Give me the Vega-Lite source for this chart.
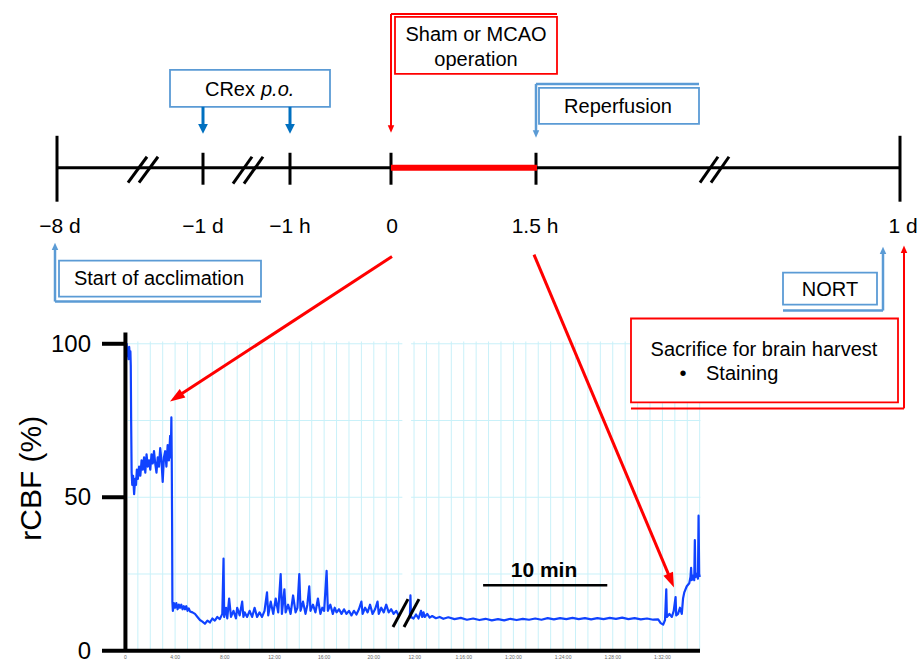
{
  "$schema": "https://vega.github.io/schema/vega-lite/v6.json",
  "width": 919,
  "height": 664,
  "autosize": {"type": "fit", "contains": "padding"},
  "padding": 0,
  "background": "white",
  "config": {"view": {"stroke": null}, "font": "Liberation Sans"},
  "datasets": {
    "trace": [
      {"s":1,"x":0,"y":99},{"s":1,"x":0.05,"y":97},{"s":1,"x":0.1,"y":100},{"s":1,"x":0.15,"y":96},{"s":1,"x":0.2,"y":98.5},{"s":1,"x":0.25,"y":95},{"s":1,"x":0.3,"y":99},{"s":1,"x":0.35,"y":96},{"s":1,"x":0.4,"y":97.5},{"s":1,"x":0.43,"y":93},{"s":1,"x":0.46,"y":75},{"s":1,"x":0.5,"y":58},{"s":1,"x":0.55,"y":54},{"s":1,"x":0.62,"y":57},{"s":1,"x":0.7,"y":51},{"s":1,"x":0.78,"y":56},{"s":1,"x":0.85,"y":54},{"s":1,"x":0.92,"y":59},{"s":1,"x":1.0,"y":56},{"s":1,"x":1.1,"y":60},{"s":1,"x":1.2,"y":57},{"s":1,"x":1.3,"y":62},{"s":1,"x":1.4,"y":59},{"s":1,"x":1.5,"y":63},{"s":1,"x":1.6,"y":58},{"s":1,"x":1.7,"y":64},{"s":1,"x":1.8,"y":60},{"s":1,"x":1.9,"y":62},{"s":1,"x":2.0,"y":59},{"s":1,"x":2.1,"y":64},{"s":1,"x":2.2,"y":61},{"s":1,"x":2.3,"y":65},{"s":1,"x":2.4,"y":61},{"s":1,"x":2.5,"y":58},{"s":1,"x":2.6,"y":63},{"s":1,"x":2.7,"y":60},{"s":1,"x":2.8,"y":66},{"s":1,"x":2.9,"y":62},{"s":1,"x":3.0,"y":55},{"s":1,"x":3.1,"y":63},{"s":1,"x":3.2,"y":65},{"s":1,"x":3.3,"y":60},{"s":1,"x":3.4,"y":67},{"s":1,"x":3.5,"y":62},{"s":1,"x":3.6,"y":70},{"s":1,"x":3.65,"y":63},{"s":1,"x":3.7,"y":76},{"s":1,"x":3.73,"y":62},{"s":1,"x":3.76,"y":40},{"s":1,"x":3.78,"y":16},{"s":1,"x":3.82,"y":13},{"s":1,"x":3.9,"y":15.5},{"s":1,"x":4.0,"y":14},{"s":1,"x":4.1,"y":15.5},{"s":1,"x":4.2,"y":13.5},{"s":1,"x":4.3,"y":15},{"s":1,"x":4.4,"y":14},{"s":1,"x":4.5,"y":15},{"s":1,"x":4.6,"y":13.5},{"s":1,"x":4.7,"y":14.5},{"s":1,"x":4.8,"y":13.5},{"s":1,"x":4.9,"y":14.5},{"s":1,"x":5.0,"y":13},{"s":1,"x":5.1,"y":13.8},{"s":1,"x":5.2,"y":12.8},{"s":1,"x":5.4,"y":12.5},{"s":1,"x":5.6,"y":12},{"s":1,"x":5.8,"y":11},{"s":1,"x":6.0,"y":10},{"s":1,"x":6.2,"y":9.5},{"s":1,"x":6.4,"y":8.8},{"s":1,"x":6.6,"y":9.8},{"s":1,"x":6.8,"y":9.2},{"s":1,"x":7.0,"y":10.5},{"s":1,"x":7.2,"y":9.8},{"s":1,"x":7.4,"y":11},{"s":1,"x":7.6,"y":10.3},{"s":1,"x":7.8,"y":12},{"s":1,"x":7.9,"y":30},{"s":1,"x":7.95,"y":11},{"s":1,"x":8.1,"y":14},{"s":1,"x":8.2,"y":10.5},{"s":1,"x":8.35,"y":17},{"s":1,"x":8.5,"y":11},{"s":1,"x":8.7,"y":13},{"s":1,"x":8.9,"y":10.5},{"s":1,"x":9.0,"y":14},{"s":1,"x":9.2,"y":11.5},{"s":1,"x":9.4,"y":16},{"s":1,"x":9.5,"y":11},{"s":1,"x":9.6,"y":12.5},{"s":1,"x":9.8,"y":11},{"s":1,"x":10.0,"y":13},{"s":1,"x":10.2,"y":11},{"s":1,"x":10.4,"y":14},{"s":1,"x":10.6,"y":11},{"s":1,"x":10.8,"y":12.5},{"s":1,"x":11.0,"y":11},{"s":1,"x":11.2,"y":13},{"s":1,"x":11.4,"y":19},{"s":1,"x":11.5,"y":11.5},{"s":1,"x":11.7,"y":16},{"s":1,"x":11.9,"y":12},{"s":1,"x":12.1,"y":17},{"s":1,"x":12.3,"y":12.5},{"s":1,"x":12.5,"y":25},{"s":1,"x":12.6,"y":12},{"s":1,"x":12.8,"y":20},{"s":1,"x":12.9,"y":12.5},{"s":1,"x":13.1,"y":15},{"s":1,"x":13.3,"y":12},{"s":1,"x":13.5,"y":18},{"s":1,"x":13.7,"y":12.5},{"s":1,"x":13.85,"y":14},{"s":1,"x":14.0,"y":25},{"s":1,"x":14.1,"y":13},{"s":1,"x":14.3,"y":16},{"s":1,"x":14.5,"y":12},{"s":1,"x":14.65,"y":15},{"s":1,"x":14.8,"y":21},{"s":1,"x":14.9,"y":13},{"s":1,"x":15.1,"y":15},{"s":1,"x":15.3,"y":12.5},{"s":1,"x":15.5,"y":17},{"s":1,"x":15.7,"y":12},{"s":1,"x":15.85,"y":14},{"s":1,"x":16.0,"y":13},{"s":1,"x":16.2,"y":26},{"s":1,"x":16.3,"y":13},{"s":1,"x":16.5,"y":15},{"s":1,"x":16.7,"y":12},{"s":1,"x":16.85,"y":14},{"s":1,"x":17.0,"y":12.5},{"s":1,"x":17.2,"y":13.5},{"s":1,"x":17.4,"y":12},{"s":1,"x":17.6,"y":13.5},{"s":1,"x":17.8,"y":12},{"s":1,"x":18.0,"y":13},{"s":1,"x":18.2,"y":11.5},{"s":1,"x":18.4,"y":13},{"s":1,"x":18.6,"y":11.8},{"s":1,"x":18.8,"y":13.5},{"s":1,"x":19.0,"y":16},{"s":1,"x":19.1,"y":12},{"s":1,"x":19.3,"y":14},{"s":1,"x":19.5,"y":12.5},{"s":1,"x":19.7,"y":15},{"s":1,"x":19.9,"y":12},{"s":1,"x":20.1,"y":13.5},{"s":1,"x":20.3,"y":16},{"s":1,"x":20.4,"y":12},{"s":1,"x":20.6,"y":14},{"s":1,"x":20.8,"y":12.5},{"s":1,"x":21.0,"y":15},{"s":1,"x":21.2,"y":12.5},{"s":1,"x":21.4,"y":13.5},{"s":1,"x":21.6,"y":12},{"s":1,"x":21.8,"y":13},{"s":1,"x":22.0,"y":11.5},{"s":1,"x":22.1,"y":12},
      {"s":2,"x":22.9,"y":10.5},{"s":2,"x":22.95,"y":18},{"s":2,"x":23.0,"y":11},{"s":2,"x":23.2,"y":10.5},{"s":2,"x":23.4,"y":11.8},{"s":2,"x":23.6,"y":10.5},{"s":2,"x":23.8,"y":13},{"s":2,"x":23.9,"y":11},{"s":2,"x":24.0,"y":12.5},{"s":2,"x":24.1,"y":11},{"s":2,"x":24.3,"y":12},{"s":2,"x":24.5,"y":10.8},{"s":2,"x":24.7,"y":11.3},{"s":2,"x":25.0,"y":10.6},{"s":2,"x":25.3,"y":11},{"s":2,"x":25.6,"y":10.4},{"s":2,"x":26.0,"y":10.9},{"s":2,"x":26.5,"y":10.3},{"s":2,"x":27.0,"y":10.7},{"s":2,"x":27.5,"y":10.1},{"s":2,"x":28.0,"y":10.5},{"s":2,"x":28.5,"y":10.0},{"s":2,"x":29.0,"y":10.4},{"s":2,"x":29.5,"y":9.9},{"s":2,"x":30.0,"y":10.3},{"s":2,"x":30.5,"y":9.9},{"s":2,"x":31.0,"y":10.4},{"s":2,"x":31.5,"y":10.0},{"s":2,"x":32.0,"y":10.4},{"s":2,"x":32.5,"y":10.1},{"s":2,"x":33.0,"y":10.5},{"s":2,"x":33.5,"y":10.1},{"s":2,"x":34.0,"y":10.6},{"s":2,"x":34.5,"y":10.2},{"s":2,"x":35.0,"y":10.6},{"s":2,"x":35.5,"y":10.3},{"s":2,"x":36.0,"y":10.7},{"s":2,"x":36.5,"y":10.3},{"s":2,"x":37.0,"y":10.6},{"s":2,"x":37.5,"y":10.2},{"s":2,"x":38.0,"y":10.6},{"s":2,"x":38.5,"y":10.3},{"s":2,"x":39.0,"y":10.7},{"s":2,"x":39.5,"y":10.4},{"s":2,"x":40.0,"y":10.8},{"s":2,"x":40.5,"y":10.3},{"s":2,"x":41.0,"y":10.6},{"s":2,"x":41.5,"y":10.2},{"s":2,"x":42.0,"y":10.5},{"s":2,"x":42.5,"y":10.1},{"s":2,"x":42.9,"y":10.2},{"s":2,"x":43.1,"y":9},{"s":2,"x":43.3,"y":8.5},{"s":2,"x":43.45,"y":10},{"s":2,"x":43.55,"y":20},{"s":2,"x":43.6,"y":11},{"s":2,"x":43.8,"y":12},{"s":2,"x":44.0,"y":11},{"s":2,"x":44.15,"y":13},{"s":2,"x":44.3,"y":17.5},{"s":2,"x":44.35,"y":11.5},{"s":2,"x":44.5,"y":12},{"s":2,"x":44.65,"y":14},{"s":2,"x":44.8,"y":12},{"s":2,"x":44.9,"y":17},{"s":2,"x":45.0,"y":19},{"s":2,"x":45.2,"y":21},{"s":2,"x":45.4,"y":22},{"s":2,"x":45.5,"y":24},{"s":2,"x":45.55,"y":27},{"s":2,"x":45.6,"y":23},{"s":2,"x":45.7,"y":24.5},{"s":2,"x":45.8,"y":23},{"s":2,"x":45.85,"y":36},{"s":2,"x":45.9,"y":24},{"s":2,"x":46.0,"y":25},{"s":2,"x":46.1,"y":23.5},{"s":2,"x":46.15,"y":44},{"s":2,"x":46.2,"y":25},{"s":2,"x":46.25,"y":24}
    ],
    "grid": [
      {"x":1,"y":0,"x2":1,"y2":100.75},{"x":2,"y":0,"x2":2,"y2":100.75},{"x":3,"y":0,"x2":3,"y2":100.75},{"x":4,"y":0,"x2":4,"y2":100.75},{"x":5,"y":0,"x2":5,"y2":100.75},{"x":6,"y":0,"x2":6,"y2":100.75},{"x":7,"y":0,"x2":7,"y2":100.75},{"x":8,"y":0,"x2":8,"y2":100.75},{"x":9,"y":0,"x2":9,"y2":100.75},{"x":10,"y":0,"x2":10,"y2":100.75},{"x":11,"y":0,"x2":11,"y2":100.75},{"x":12,"y":0,"x2":12,"y2":100.75},{"x":13,"y":0,"x2":13,"y2":100.75},{"x":14,"y":0,"x2":14,"y2":100.75},{"x":15,"y":0,"x2":15,"y2":100.75},{"x":16,"y":0,"x2":16,"y2":100.75},{"x":17,"y":0,"x2":17,"y2":100.75},{"x":18,"y":0,"x2":18,"y2":100.75},{"x":19,"y":0,"x2":19,"y2":100.75},{"x":20,"y":0,"x2":20,"y2":100.75},{"x":21,"y":0,"x2":21,"y2":100.75},{"x":22,"y":0,"x2":22,"y2":100.75},
      {"x":23.24,"y":0,"x2":23.24,"y2":100.75},{"x":24.24,"y":0,"x2":24.24,"y2":100.75},{"x":25.24,"y":0,"x2":25.24,"y2":100.75},{"x":26.24,"y":0,"x2":26.24,"y2":100.75},{"x":27.24,"y":0,"x2":27.24,"y2":100.75},{"x":28.24,"y":0,"x2":28.24,"y2":100.75},{"x":29.24,"y":0,"x2":29.24,"y2":100.75},{"x":30.24,"y":0,"x2":30.24,"y2":100.75},{"x":31.24,"y":0,"x2":31.24,"y2":100.75},{"x":32.24,"y":0,"x2":32.24,"y2":100.75},{"x":33.24,"y":0,"x2":33.24,"y2":100.75},{"x":34.24,"y":0,"x2":34.24,"y2":100.75},{"x":35.24,"y":0,"x2":35.24,"y2":100.75},{"x":36.24,"y":0,"x2":36.24,"y2":100.75},{"x":37.24,"y":0,"x2":37.24,"y2":100.75},{"x":38.24,"y":0,"x2":38.24,"y2":100.75},{"x":39.24,"y":0,"x2":39.24,"y2":100.75},{"x":40.24,"y":0,"x2":40.24,"y2":100.75},{"x":41.24,"y":0,"x2":41.24,"y2":100.75},{"x":42.24,"y":0,"x2":42.24,"y2":100.75},{"x":43.24,"y":0,"x2":43.24,"y2":100.75},{"x":44.24,"y":0,"x2":44.24,"y2":100.75},{"x":45.24,"y":0,"x2":45.24,"y2":100.75},{"x":46.24,"y":0,"x2":46.24,"y2":100.75},
      {"x":0.2,"y":25,"x2":22.3,"y2":25},{"x":0.2,"y":50,"x2":22.3,"y2":50},{"x":0.2,"y":75,"x2":22.3,"y2":75},{"x":0.2,"y":100,"x2":22.3,"y2":100},
      {"x":23.0,"y":25,"x2":46.3,"y2":25},{"x":23.0,"y":50,"x2":46.3,"y2":50},{"x":23.0,"y":75,"x2":46.3,"y2":75},{"x":23.0,"y":100,"x2":46.3,"y2":100}
    ],
    "segs": [
      {"k":"tl","x":-5.51,"y":157.35,"x2":21.384,"y2":157.35},
      {"k":"tl","x":33.14,"y":157.35,"x2":62.37,"y2":157.35},
      {"k":"tl","x":-5.51,"y":167.76,"x2":-5.51,"y2":146.29},
      {"k":"tl","x":62.37,"y":167.76,"x2":62.37,"y2":146.29},
      {"k":"tl","x":6.246,"y":162.23,"x2":6.246,"y2":151.82},
      {"k":"tl","x":13.251,"y":162.23,"x2":13.251,"y2":151.82},
      {"k":"tl","x":21.384,"y":162.23,"x2":21.384,"y2":151.82},
      {"k":"tl","x":33.06,"y":162.23,"x2":33.06,"y2":151.82},
      {"k":"tl","x":0.207,"y":152.47,"x2":1.737,"y2":160.93},
      {"k":"tl","x":1.093,"y":152.47,"x2":2.622,"y2":160.93},
      {"k":"tl","x":8.662,"y":152.14,"x2":10.192,"y2":160.93},
      {"k":"tl","x":9.547,"y":152.14,"x2":11.077,"y2":160.93},
      {"k":"tl","x":46.265,"y":152.47,"x2":47.715,"y2":160.93},
      {"k":"tl","x":47.151,"y":152.47,"x2":48.601,"y2":160.93},
      {"k":"tl","x":21.545,"y":7.71,"x2":22.753,"y2":16.82},
      {"k":"tl","x":22.431,"y":7.71,"x2":23.639,"y2":16.82},
      {"k":"tlred","x":21.384,"y":157.35,"x2":33.14,"y2":157.35},
      {"k":"axis","x":0,"y":0,"x2":0,"y2":103.67},
      {"k":"axis","x":-1.887,"y":0,"x2":46.265,"y2":0},
      {"k":"axis","x":-1.887,"y":100,"x2":0,"y2":100},
      {"k":"axis","x":-1.887,"y":50,"x2":0,"y2":50},
      {"k":"bar","x":28.8,"y":21.37,"x2":38.8,"y2":21.37},
      {"k":"darr","x":6.246,"y":177.19,"x2":6.246,"y2":170.69},
      {"k":"darr","x":13.251,"y":177.19,"x2":13.251,"y2":170.69},
      {"k":"lconn","x":-5.671,"y":113.76,"x2":10.916,"y2":113.76},
      {"k":"lconn","x":-5.671,"y":113.76,"x2":-5.671,"y2":131.0},
      {"k":"lconn","x":33.06,"y":184.67,"x2":46.185,"y2":184.67},
      {"k":"lconn","x":33.06,"y":184.67,"x2":33.06,"y2":169.06},
      {"k":"lconn","x":52.949,"y":110.83,"x2":61.001,"y2":110.83},
      {"k":"lconn","x":61.001,"y":110.83,"x2":61.001,"y2":129.7},
      {"k":"rconn","x":21.384,"y":207.45,"x2":34.751,"y2":207.45},
      {"k":"rconn","x":21.384,"y":207.45,"x2":21.384,"y2":170.69},
      {"k":"rconn","x":40.709,"y":78.95,"x2":62.692,"y2":78.95},
      {"k":"rconn","x":62.692,"y":78.95,"x2":62.692,"y2":130.02},
      {"k":"bigred","x":21.465,"y":128.4,"x2":4.398,"y2":83.37},
      {"k":"bigred","x":32.898,"y":129.05,"x2":43.797,"y2":24.22}
    ],
    "tips": [
      {"k":"darr","x":6.246,"y":168.41,"a":180},
      {"k":"darr","x":13.251,"y":168.41,"a":180},
      {"k":"lconn","x":-5.671,"y":132.95,"a":0},
      {"k":"lconn","x":33.06,"y":167.11,"a":180},
      {"k":"lconn","x":61.001,"y":131.65,"a":0},
      {"k":"rconn","x":21.384,"y":168.74,"a":180},
      {"k":"rconn","x":62.692,"y":131.98,"a":0},
      {"k":"bigred","x":3.589,"y":81.23,"a":236.85},
      {"k":"bigred","x":44.172,"y":20.62,"a":157.2}
    ],
    "boxes": [
      {"k":"blue","x":3.589,"y":189.23,"x2":16.472,"y2":177.19},
      {"k":"blue","x":-5.349,"y":127.1,"x2":10.916,"y2":115.39},
      {"k":"blue","x":33.301,"y":183.37,"x2":46.185,"y2":171.66},
      {"k":"blue","x":52.949,"y":123.19,"x2":60.518,"y2":112.78},
      {"k":"red","x":21.706,"y":206.47,"x2":34.751,"y2":187.93},
      {"k":"red","x":40.709,"y":108.23,"x2":62.209,"y2":80.9}
    ],
    "texts": [
      {"k":"tl","x":-5.269,"y":138.48,"t":"−8 d"},
      {"k":"tl","x":6.246,"y":138.48,"t":"−1 d"},
      {"k":"tl","x":13.251,"y":138.48,"t":"−1 h"},
      {"k":"tl","x":21.465,"y":138.48,"t":"0"},
      {"k":"tl","x":32.979,"y":138.48,"t":"1.5 h"},
      {"k":"tl","x":62.611,"y":138.48,"t":"1 d"},
      {"k":"box","x":2.703,"y":121.4,"t":"Start of acclimation"},
      {"k":"box","x":28.229,"y":200.94,"t":"Sham or MCAO"},
      {"k":"box","x":28.229,"y":192.81,"t":"operation"},
      {"k":"box","x":39.663,"y":177.52,"t":"Reperfusion"},
      {"k":"box","x":56.733,"y":117.99,"t":"NORT"},
      {"k":"box","x":51.419,"y":98.14,"t":"Sacrifice for brain harvest"},
      {"k":"box","x":44.897,"y":90.34,"t":"•"},
      {"k":"left","x":46.749,"y":90.34,"t":"Staining"},
      {"k":"right","x":10.433,"y":182.89,"t":"CRex"},
      {"k":"italic","x":10.916,"y":182.89,"t":"p.o."},
      {"k":"ylab","x":-2.773,"y":100,"t":"100"},
      {"k":"ylab","x":-2.773,"y":50,"t":"50"},
      {"k":"ylab","x":-2.773,"y":0,"t":"0"},
      {"k":"bold","x":33.704,"y":26.42,"t":"10 min"},
      {"k":"title","x":-7.523,"y":56.18,"t":"rCBF (%)"},
      {"k":"tick","x":0,"y":-2.05,"t":"0"},
      {"k":"tick","x":4,"y":-2.05,"t":"4:00"},
      {"k":"tick","x":8,"y":-2.05,"t":"8:00"},
      {"k":"tick","x":12,"y":-2.05,"t":"12:00"},
      {"k":"tick","x":16,"y":-2.05,"t":"16:00"},
      {"k":"tick","x":20,"y":-2.05,"t":"20:00"},
      {"k":"tick","x":23.3,"y":-2.05,"t":"12:00"},
      {"k":"tick","x":27.24,"y":-2.05,"t":"1:16:00"},
      {"k":"tick","x":31.24,"y":-2.05,"t":"1:20:00"},
      {"k":"tick","x":35.24,"y":-2.05,"t":"1:24:00"},
      {"k":"tick","x":39.24,"y":-2.05,"t":"1:28:00"},
      {"k":"tick","x":43.24,"y":-2.05,"t":"1:32:00"}
    ]
  },
  "encoding": {
    "x": {"field": "x", "type": "quantitative", "scale": {"domain": [-10.1, 63.9], "nice": false, "zero": false}, "axis": null},
    "y": {"field": "y", "type": "quantitative", "scale": {"domain": [-4, 212], "nice": false, "zero": false}, "axis": null}
  },
  "layer": [
    {"data": {"name": "grid"}, "mark": {"type": "rule", "color": "#c9f1f9", "strokeWidth": 1}, "encoding": {"x2": {"field": "x2"}, "y2": {"field": "y2"}}},
    {"data": {"name": "trace"}, "mark": {"type": "line", "color": "#1043ff", "strokeWidth": 2.2, "strokeJoin": "round"}, "encoding": {"detail": {"field": "s"}}},
    {"data": {"name": "segs"}, "transform": [{"filter": "datum.k === 'tl'"}], "mark": {"type": "rule", "color": "black", "strokeWidth": 3}, "encoding": {"x2": {"field": "x2"}, "y2": {"field": "y2"}}},
    {"data": {"name": "segs"}, "transform": [{"filter": "datum.k === 'tlred'"}], "mark": {"type": "rule", "color": "#ff0000", "strokeWidth": 6}, "encoding": {"x2": {"field": "x2"}, "y2": {"field": "y2"}}},
    {"data": {"name": "segs"}, "transform": [{"filter": "datum.k === 'axis'"}], "mark": {"type": "rule", "color": "black", "strokeWidth": 4}, "encoding": {"x2": {"field": "x2"}, "y2": {"field": "y2"}}},
    {"data": {"name": "segs"}, "transform": [{"filter": "datum.k === 'bar'"}], "mark": {"type": "rule", "color": "black", "strokeWidth": 2.5}, "encoding": {"x2": {"field": "x2"}, "y2": {"field": "y2"}}},
    {"data": {"name": "boxes"}, "transform": [{"filter": "datum.k === 'blue'"}], "mark": {"type": "rect", "fill": "white", "stroke": "#5b9bd5", "strokeWidth": 1.8}, "encoding": {"x2": {"field": "x2"}, "y2": {"field": "y2"}}},
    {"data": {"name": "boxes"}, "transform": [{"filter": "datum.k === 'red'"}], "mark": {"type": "rect", "fill": "white", "stroke": "#ff0000", "strokeWidth": 1.8}, "encoding": {"x2": {"field": "x2"}, "y2": {"field": "y2"}}},
    {"data": {"name": "segs"}, "transform": [{"filter": "datum.k === 'darr'"}], "mark": {"type": "rule", "color": "#0070c0", "strokeWidth": 3}, "encoding": {"x2": {"field": "x2"}, "y2": {"field": "y2"}}},
    {"data": {"name": "segs"}, "transform": [{"filter": "datum.k === 'lconn'"}], "mark": {"type": "rule", "color": "#5b9bd5", "strokeWidth": 2.5}, "encoding": {"x2": {"field": "x2"}, "y2": {"field": "y2"}}},
    {"data": {"name": "segs"}, "transform": [{"filter": "datum.k === 'rconn'"}], "mark": {"type": "rule", "color": "#ff0000", "strokeWidth": 2}, "encoding": {"x2": {"field": "x2"}, "y2": {"field": "y2"}}},
    {"data": {"name": "segs"}, "transform": [{"filter": "datum.k === 'bigred'"}], "mark": {"type": "rule", "color": "#ff0000", "strokeWidth": 3}, "encoding": {"x2": {"field": "x2"}, "y2": {"field": "y2"}}},
    {"data": {"name": "tips"}, "transform": [{"filter": "datum.k === 'darr'"}], "mark": {"type": "point", "shape": "M0,0L0.5,1L-0.5,1Z", "filled": true, "color": "#0070c0", "opacity": 1, "size": 380}, "encoding": {"angle": {"field": "a", "type": "quantitative", "scale": null}}},
    {"data": {"name": "tips"}, "transform": [{"filter": "datum.k === 'lconn'"}], "mark": {"type": "point", "shape": "M0,0L0.5,1.15L-0.5,1.15Z", "filled": true, "color": "#5b9bd5", "opacity": 1, "size": 169}, "encoding": {"angle": {"field": "a", "type": "quantitative", "scale": null}}},
    {"data": {"name": "tips"}, "transform": [{"filter": "datum.k === 'rconn'"}], "mark": {"type": "point", "shape": "M0,0L0.5,1.15L-0.5,1.15Z", "filled": true, "color": "#ff0000", "opacity": 1, "size": 169}, "encoding": {"angle": {"field": "a", "type": "quantitative", "scale": null}}},
    {"data": {"name": "tips"}, "transform": [{"filter": "datum.k === 'bigred'"}], "mark": {"type": "point", "shape": "M0,0L0.45,1.3L-0.45,1.3Z", "filled": true, "color": "#ff0000", "opacity": 1, "size": 529}, "encoding": {"angle": {"field": "a", "type": "quantitative", "scale": null}}},
    {"data": {"name": "texts"}, "transform": [{"filter": "datum.k === 'tl'"}], "mark": {"type": "text", "font": "Liberation Sans", "fontSize": 21, "align": "center", "baseline": "middle", "dy": 1, "color": "black"}, "encoding": {"text": {"field": "t"}}},
    {"data": {"name": "texts"}, "transform": [{"filter": "datum.k === 'box'"}], "mark": {"type": "text", "font": "Liberation Sans", "fontSize": 20, "align": "center", "baseline": "middle", "dy": 1, "color": "black"}, "encoding": {"text": {"field": "t"}}},
    {"data": {"name": "texts"}, "transform": [{"filter": "datum.k === 'left'"}], "mark": {"type": "text", "font": "Liberation Sans", "fontSize": 20, "align": "left", "baseline": "middle", "dy": 1, "color": "black"}, "encoding": {"text": {"field": "t"}}},
    {"data": {"name": "texts"}, "transform": [{"filter": "datum.k === 'right'"}], "mark": {"type": "text", "font": "Liberation Sans", "fontSize": 20, "align": "right", "baseline": "middle", "dy": 1, "color": "black"}, "encoding": {"text": {"field": "t"}}},
    {"data": {"name": "texts"}, "transform": [{"filter": "datum.k === 'italic'"}], "mark": {"type": "text", "font": "Liberation Sans", "fontSize": 20, "fontStyle": "italic", "align": "left", "baseline": "middle", "dy": 1, "color": "black"}, "encoding": {"text": {"field": "t"}}},
    {"data": {"name": "texts"}, "transform": [{"filter": "datum.k === 'ylab'"}], "mark": {"type": "text", "font": "Liberation Sans", "fontSize": 24, "align": "right", "baseline": "middle", "dy": 1, "color": "black"}, "encoding": {"text": {"field": "t"}}},
    {"data": {"name": "texts"}, "transform": [{"filter": "datum.k === 'bold'"}], "mark": {"type": "text", "font": "Liberation Sans", "fontSize": 21, "fontWeight": "bold", "align": "center", "baseline": "middle", "dy": 1, "color": "black"}, "encoding": {"text": {"field": "t"}}},
    {"data": {"name": "texts"}, "transform": [{"filter": "datum.k === 'title'"}], "mark": {"type": "text", "font": "Liberation Sans", "fontSize": 30, "angle": 270, "align": "center", "baseline": "middle", "color": "black"}, "encoding": {"text": {"field": "t"}}},
    {"data": {"name": "texts"}, "transform": [{"filter": "datum.k === 'tick'"}], "mark": {"type": "text", "font": "Liberation Sans", "fontSize": 5, "align": "center", "baseline": "middle", "color": "#666666"}, "encoding": {"text": {"field": "t"}}}
  ]
}
